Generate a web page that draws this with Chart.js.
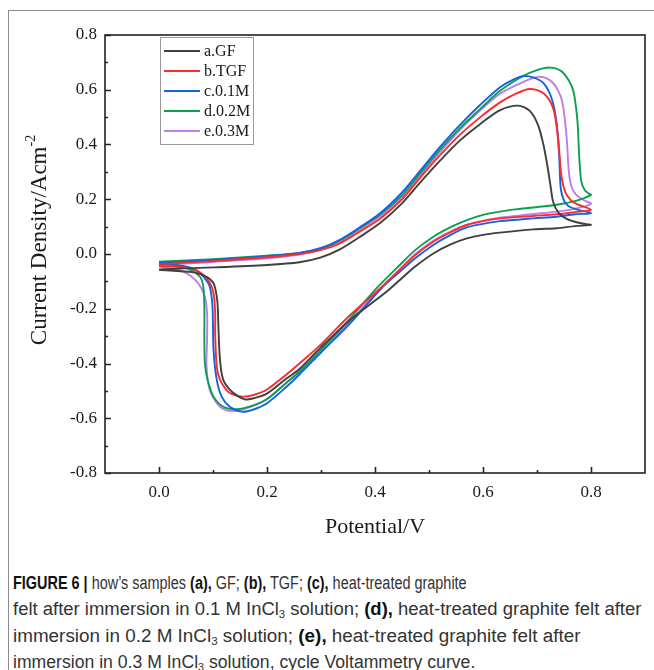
<!DOCTYPE html>
<html>
<head>
<meta charset="utf-8">
<title>Figure 6 - cyclic voltammetry</title>
<script src="https://cdn.jsdelivr.net/npm/chart.js"></script>
<style>
  body { margin:0; background:#fff; width:654px; height:670px; overflow:hidden; position:relative; }
  #frame { position:absolute; left:8px; top:10px; width:700px; height:700px; border-top:1px solid #8c8c8c; border-left:1px solid #8c8c8c; }
  #wrap { position:absolute; left:0; top:0; width:654px; height:545px; }
  #caption { position:absolute; left:13px; top:570px; white-space:nowrap;
    font-family:"Liberation Sans Narrow","Arial Narrow","Liberation Sans",sans-serif;
    font-size:18px; line-height:26.3px; color:#333; }
  #caption .cl { display:block; height:26.3px; }
  #caption .cl span { display:inline-block; transform-origin:0 50%; }
  #caption b { color:#111; }
  #caption sub { font-size:11px; line-height:0; vertical-align:-3px; }
</style>
</head>
<body>
<div id="frame"></div>
<div id="wrap"><canvas id="cv" width="654" height="545"></canvas></div>
<div id="caption">
<div class="cl"><span><b>FIGURE 6 |</b> how’s samples <b>(a),</b> GF; <b>(b),</b> TGF; <b>(c),</b> heat-treated graphite</span></div>
<div class="cl"><span>felt after immersion in 0.1 M InCl<sub>3</sub> solution; <b>(d),</b> heat-treated graphite felt after</span></div>
<div class="cl"><span>immersion in 0.2 M InCl<sub>3</sub> solution; <b>(e),</b> heat-treated graphite felt after</span></div>
<div class="cl"><span>immersion in 0.3 M InCl<sub>3</sub> solution, cycle Voltammetry curve.</span></div>
</div>
<script>
// sample labels (legend order)
const labels = ['a.GF', 'b.TGF', 'c.0.1M', 'd.0.2M', 'e.0.3M'];
const colors = ['#404040', '#ff2a2a', '#1463df', '#0a9f52', '#c27ce9'];

// each loop: anodic sweep 0 -> 0.8 V, then cathodic sweep back to 0 V
const gfV = [0, 0.1, 0.2, 0.26, 0.3, 0.335, 0.37, 0.41, 0.45, 0.485, 0.52, 0.557, 0.595, 0.631, 0.665, 0.687, 0.702, 0.712, 0.719, 0.725, 0.73, 0.74, 0.755, 0.775, 0.8,
  0.77, 0.736, 0.693, 0.631, 0.6, 0.57, 0.54, 0.508, 0.475, 0.446, 0.42, 0.354, 0.3, 0.26, 0.236, 0.2, 0.175, 0.159, 0.135, 0.119, 0.113, 0.11, 0.109, 0.107, 0.101, 0.088, 0.064, 0];
const gfJ = [-0.056, -0.049, -0.04, -0.03, -0.012, 0.017, 0.06, 0.114, 0.185, 0.264, 0.34, 0.414, 0.475, 0.525, 0.542, 0.522, 0.471, 0.398, 0.325, 0.25, 0.19, 0.15, 0.128, 0.115, 0.106,
  0.102, 0.094, 0.09, 0.078, 0.07, 0.057, 0.035, 0.002, -0.045, -0.095, -0.14, -0.241, -0.34, -0.42, -0.455, -0.51, -0.527, -0.531, -0.503, -0.46, -0.387, -0.266, -0.2, -0.156, -0.107, -0.083, -0.067, -0.058];

const tgfV = [0, 0.1, 0.2, 0.26, 0.3, 0.335, 0.37, 0.41, 0.45, 0.485, 0.52, 0.557, 0.595, 0.631, 0.66, 0.687, 0.712, 0.73, 0.739, 0.745, 0.752, 0.762, 0.773, 0.8,
  0.77, 0.736, 0.693, 0.631, 0.6, 0.57, 0.54, 0.508, 0.475, 0.446, 0.41, 0.354, 0.3, 0.26, 0.236, 0.2, 0.175, 0.155, 0.135, 0.125, 0.113, 0.107, 0.104, 0.104, 0.101, 0.093, 0.079, 0.057, 0];
const tgfJ = [-0.037, -0.026, -0.012, 0.0, 0.015, 0.039, 0.08, 0.13, 0.2, 0.282, 0.36, 0.435, 0.5, 0.553, 0.585, 0.603, 0.587, 0.532, 0.423, 0.289, 0.228, 0.198, 0.183, 0.161,
  0.153, 0.145, 0.139, 0.13, 0.12, 0.106, 0.08, 0.045, -0.003, -0.058, -0.125, -0.223, -0.33, -0.4, -0.44, -0.495, -0.515, -0.521, -0.512, -0.497, -0.46, -0.412, -0.29, -0.217, -0.144, -0.101, -0.071, -0.052, -0.044];

const m01V = [0, 0.1, 0.2, 0.26, 0.3, 0.335, 0.37, 0.41, 0.45, 0.485, 0.52, 0.557, 0.595, 0.631, 0.655, 0.675, 0.693, 0.712, 0.727, 0.736, 0.741, 0.744, 0.75, 0.758, 0.773, 0.8,
  0.77, 0.736, 0.693, 0.631, 0.6, 0.57, 0.54, 0.508, 0.475, 0.446, 0.412, 0.354, 0.3, 0.26, 0.236, 0.2, 0.175, 0.153, 0.131, 0.116, 0.107, 0.101, 0.099, 0.094, 0.085, 0.07, 0.045, 0];
const m01J = [-0.032, -0.022, -0.008, 0.004, 0.022, 0.052, 0.095, 0.15, 0.225, 0.307, 0.39, 0.471, 0.545, 0.608, 0.636, 0.65, 0.645, 0.624, 0.569, 0.483, 0.362, 0.24, 0.195, 0.175, 0.163, 0.149,
  0.145, 0.136, 0.13, 0.12, 0.11, 0.097, 0.07, 0.033, -0.015, -0.065, -0.125, -0.253, -0.36, -0.44, -0.485, -0.545, -0.568, -0.576, -0.558, -0.521, -0.46, -0.351, -0.192, -0.119, -0.089, -0.061, -0.044, -0.037];

const m02V = [0, 0.1, 0.2, 0.26, 0.3, 0.335, 0.37, 0.41, 0.45, 0.485, 0.52, 0.557, 0.595, 0.631, 0.675, 0.7, 0.724, 0.745, 0.76, 0.768, 0.775, 0.778, 0.782, 0.788, 0.795, 0.8,
  0.77, 0.736, 0.693, 0.66, 0.631, 0.6, 0.57, 0.54, 0.508, 0.475, 0.446, 0.403, 0.354, 0.3, 0.26, 0.236, 0.2, 0.175, 0.144, 0.119, 0.101, 0.09, 0.085, 0.084, 0.084, 0.082, 0.076, 0.057, 0.033, 0];
const m02J = [-0.028, -0.019, -0.006, 0.004, 0.02, 0.05, 0.092, 0.145, 0.215, 0.298, 0.38, 0.459, 0.53, 0.595, 0.651, 0.672, 0.681, 0.668, 0.63, 0.59, 0.483, 0.362, 0.265, 0.235, 0.222, 0.216,
  0.193, 0.18, 0.17, 0.163, 0.155, 0.143, 0.124, 0.098, 0.063, 0.015, -0.04, -0.125, -0.235, -0.35, -0.43, -0.47, -0.53, -0.553, -0.567, -0.558, -0.521, -0.46, -0.4, -0.314, -0.192, -0.119, -0.083, -0.056, -0.04, -0.034];

const m03V = [0, 0.1, 0.2, 0.26, 0.3, 0.335, 0.37, 0.41, 0.45, 0.485, 0.52, 0.557, 0.595, 0.631, 0.675, 0.702, 0.72, 0.733, 0.744, 0.749, 0.755, 0.759, 0.764, 0.772, 0.786, 0.8,
  0.77, 0.736, 0.693, 0.631, 0.6, 0.57, 0.54, 0.508, 0.475, 0.446, 0.41, 0.354, 0.3, 0.26, 0.236, 0.2, 0.16, 0.135, 0.118, 0.107, 0.094, 0.088, 0.089, 0.089, 0.085, 0.07, 0.045, 0];
const m03J = [-0.04, -0.029, -0.016, -0.002, 0.016, 0.045, 0.088, 0.138, 0.21, 0.29, 0.372, 0.453, 0.525, 0.585, 0.629, 0.647, 0.64, 0.617, 0.575, 0.53, 0.423, 0.3, 0.245, 0.218, 0.197, 0.183,
  0.165, 0.155, 0.146, 0.133, 0.122, 0.107, 0.082, 0.048, 0.0, -0.055, -0.125, -0.245, -0.35, -0.43, -0.47, -0.53, -0.565, -0.574, -0.565, -0.545, -0.497, -0.412, -0.314, -0.217, -0.156, -0.101, -0.064, -0.046];

// axis ticks
const xTicks = [0, 0.2, 0.4, 0.6, 0.8];
const xMinor = [0.1, 0.3, 0.5, 0.7];
const yTicks = [-0.8, -0.6, -0.4, -0.2, 0, 0.2, 0.4, 0.6, 0.8];
const yMinor = [-0.7, -0.5, -0.3, -0.1, 0.1, 0.3, 0.5, 0.7];

// caption line widths as set in the figure
const captionWidths = [454, 628, 567, 462];
document.querySelectorAll('#caption .cl span').forEach((s, i) => {
  s.style.transform = 'scaleX(' + (captionWidths[i] / s.offsetWidth).toFixed(4) + ')';
});

const series = [[gfV, gfJ], [tgfV, tgfJ], [m01V, m01J], [m02V, m02J], [m03V, m03J]];
const datasets = series.map(([v, j], i) => ({
  label: labels[i],
  data: v.map((p, k) => ({x: p, y: j[k]})),
  borderColor: colors[i],
  backgroundColor: colors[i],
  borderWidth: 1.9,
  pointRadius: 0,
  showLine: true,
  tension: 0.3,
  fill: false
}));

const serif = '"Liberation Serif","Times New Roman",serif';

// box, inward ticks, legend and y title
const decor = {
  id: 'decor',
  afterDraw(chart) {
    const {ctx, chartArea: a, scales: {x, y}} = chart;
    ctx.save();
    ctx.strokeStyle = '#222';
    ctx.lineWidth = 1.6;
    ctx.strokeRect(a.left, a.top, a.right - a.left, a.bottom - a.top);
    ctx.beginPath();
    xTicks.forEach(v => { const p = Math.round(x.getPixelForValue(v)) + 0.5; ctx.moveTo(p, a.bottom); ctx.lineTo(p, a.bottom - 6); });
    xMinor.forEach(v => { const p = Math.round(x.getPixelForValue(v)) + 0.5; ctx.moveTo(p, a.bottom); ctx.lineTo(p, a.bottom - 3); });
    yTicks.forEach(v => { const p = Math.round(y.getPixelForValue(v)) + 0.5; ctx.moveTo(a.left, p); ctx.lineTo(a.left + 6, p); });
    yMinor.forEach(v => { const p = Math.round(y.getPixelForValue(v)) + 0.5; ctx.moveTo(a.left, p); ctx.lineTo(a.left + 3, p); });
    ctx.stroke();

    // legend
    ctx.strokeStyle = '#9a9a9a';
    ctx.lineWidth = 1;
    ctx.strokeRect(160.5, 37.5, 93, 107);
    ctx.font = '16px ' + serif;
    ctx.textBaseline = 'middle';
    ctx.textAlign = 'left';
    labels.forEach((t, i) => {
      const yy = 51 + i * 20;
      ctx.strokeStyle = colors[i];
      ctx.lineWidth = 1.9;
      ctx.beginPath(); ctx.moveTo(164, yy); ctx.lineTo(200, yy); ctx.stroke();
      ctx.fillStyle = '#1a1a1a';
      ctx.fillText(t, 204, yy + 1);
    });

    // y axis title with superscript
    ctx.translate(40, (a.top + a.bottom) / 2 - 14);
    ctx.rotate(-Math.PI / 2);
    ctx.fillStyle = '#1a1a1a';
    ctx.font = '23px ' + serif;
    const main = 'Current Density/Acm';
    const w1 = ctx.measureText(main).width;
    ctx.font = '14px ' + serif;
    const w2 = ctx.measureText('-2').width;
    const x0 = -(w1 + w2) / 2;
    ctx.font = '23px ' + serif;
    ctx.fillText(main, x0, 0);
    ctx.font = '14px ' + serif;
    ctx.fillText('-2', x0 + w1, -9);
    ctx.restore();
  }
};

new Chart(document.getElementById('cv'), {
  type: 'scatter',
  data: { datasets },
  plugins: [decor],
  options: {
    responsive: false,
    animation: false,
    layout: { padding: { left: 0, top: 35, right: 9, bottom: 0 } },
    plugins: { legend: { display: false }, tooltip: { enabled: false } },
    scales: {
      x: {
        type: 'linear', min: -0.1, max: 0.9,
        afterFit: s => { s.height = 72; },
        afterBuildTicks: s => { s.ticks = xTicks.map(v => ({value: v})); },
        grid: { display: false, drawTicks: false },
        border: { display: false },
        ticks: { padding: 9, color: '#1a1a1a', font: { family: serif, size: 17 }, callback: v => v.toFixed(1) },
        title: { display: true, text: 'Potential/V', color: '#1a1a1a', font: { family: serif, size: 22 }, padding: { top: 0, bottom: 5 } }
      },
      y: {
        type: 'linear', min: -0.8, max: 0.8,
        afterFit: s => { s.width = 105; },
        afterBuildTicks: s => { s.ticks = yTicks.map(v => ({value: v})); },
        grid: { display: false, drawTicks: false },
        border: { display: false },
        ticks: { padding: 8, color: '#1a1a1a', font: { family: serif, size: 17 }, callback: v => v.toFixed(1) }
      }
    }
  }
});
</script>
</body>
</html>
